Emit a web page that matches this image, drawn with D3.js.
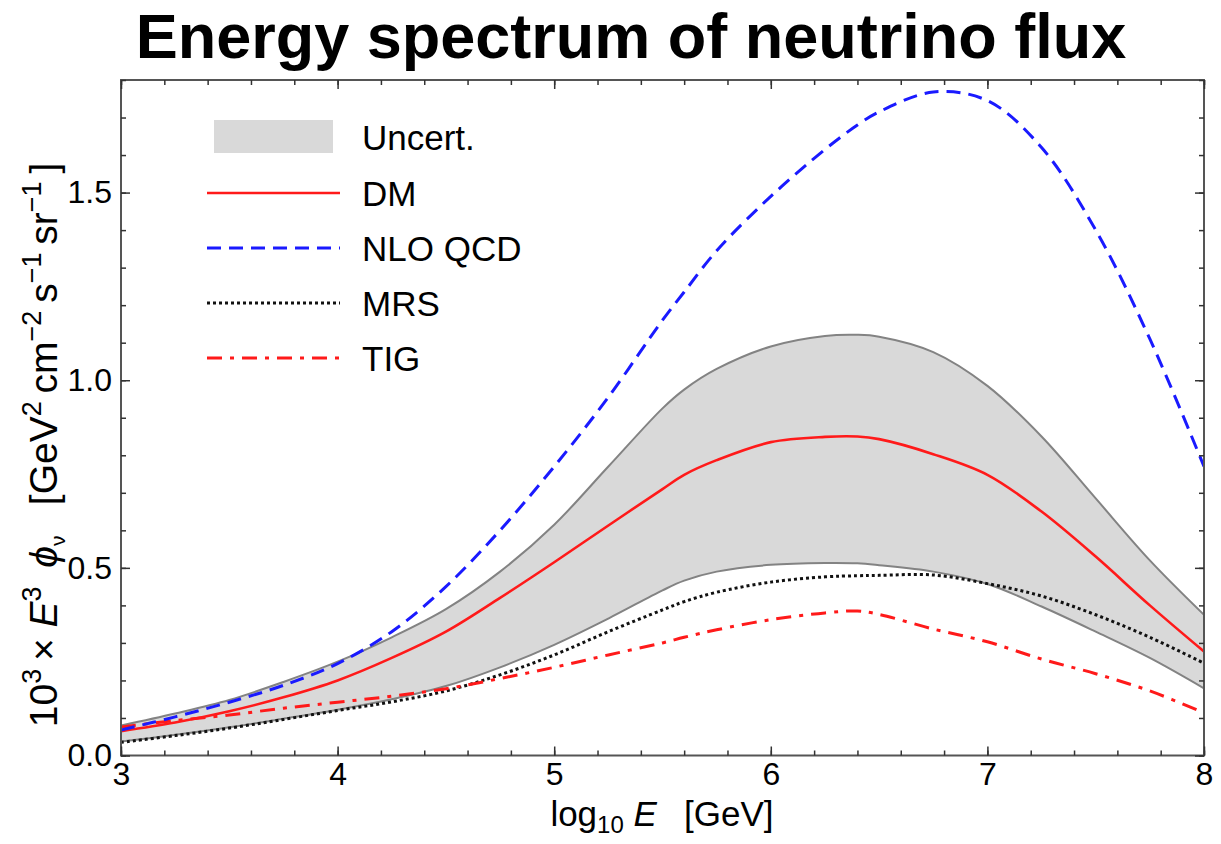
<!DOCTYPE html>
<html><head><meta charset="utf-8">
<script src="https://cdn.jsdelivr.net/npm/d3@7"></script>
<style>body{margin:0;background:#fff}svg{display:block}</style>
</head><body>
<script>
const energy = [3,3.25,3.5,3.75,4,4.25,4.5,4.75,5,5.25,5.5,5.6,5.75,6,6.25,6.4,6.5,6.75,7,7.25,7.5,7.75,8];
const nloQCD = [0.068,0.103,0.142,0.187,0.245,0.33,0.45,0.60,0.77,0.955,1.16,1.235,1.345,1.49,1.615,1.68,1.715,1.768,1.745,1.62,1.40,1.11,0.77];
const uncUpper = [0.08,0.112,0.148,0.196,0.25,0.315,0.39,0.49,0.615,0.77,0.925,0.975,1.03,1.09,1.118,1.121,1.116,1.075,0.985,0.85,0.685,0.52,0.375];
const uncLower = [0.037,0.055,0.075,0.098,0.122,0.15,0.185,0.235,0.295,0.365,0.44,0.466,0.49,0.508,0.513,0.512,0.507,0.49,0.457,0.397,0.33,0.26,0.179];
const dm = [0.065,0.088,0.118,0.155,0.2,0.26,0.33,0.42,0.515,0.613,0.71,0.748,0.787,0.835,0.849,0.85,0.843,0.803,0.748,0.65,0.53,0.40,0.277];
const mrs = [0.035,0.053,0.073,0.096,0.12,0.143,0.172,0.215,0.268,0.33,0.388,0.41,0.435,0.462,0.476,0.479,0.48,0.481,0.458,0.425,0.375,0.315,0.246];
const tig = [0.076,0.093,0.108,0.126,0.142,0.158,0.178,0.205,0.235,0.268,0.3,0.315,0.335,0.362,0.38,0.385,0.376,0.337,0.303,0.257,0.218,0.172,0.114];
const xTicks = [3,4,5,6,7,8];
const yTicks = [0.0,0.5,1.0,1.5];
const legendLabels = ["Uncert.","DM","NLO QCD","MRS","TIG"];

const W=1221,H=844;
const L=121,R=1204,T=80,B=755.5;
const svg=d3.select("body").append("svg").attr("width",W).attr("height",H);
const font="Liberation Sans, Arial, Helvetica, sans-serif";
const x=d3.scaleLinear().domain([3,8]).range([L,R]);
const y=d3.scaleLinear().domain([0,1.8]).range([B,T]);

svg.append("text").attr("x",631).attr("y",58).attr("text-anchor","middle")
  .attr("font-family",font).attr("font-weight","bold").attr("font-size",63).text("Energy spectrum of neutrino flux");

svg.append("clipPath").attr("id","clip").append("rect").attr("x",L).attr("y",T).attr("width",R-L).attr("height",B-T);
const g=svg.append("g").attr("clip-path","url(#clip)");
const curve=d3.curveCatmullRom.alpha(0.5);
const band=energy.map((e,i)=>({e,lo:uncLower[i],hi:uncUpper[i]}));
g.append("path").datum(band).attr("fill","#d9d9d9")
  .attr("d",d3.area().x(d=>x(d.e)).y0(d=>y(d.lo)).y1(d=>y(d.hi)).curve(curve));
const line=(arr)=>d3.line().x((d,i)=>x(energy[i])).y(d=>y(d)).curve(curve)(arr);
g.append("path").attr("d",line(uncUpper)).attr("fill","none").attr("stroke","#838383").attr("stroke-width",2);
g.append("path").attr("d",line(uncLower)).attr("fill","none").attr("stroke","#838383").attr("stroke-width",2);
const styles={
  mrs:{stroke:"#111",w:3,dash:"3,3"},
  tig:{stroke:"#ff1a1a",w:3,dash:"15,8,4,8"},
  dm:{stroke:"#ff1a1a",w:2.6,dash:null},
  nlo:{stroke:"#1a1aff",w:3,dash:"14,8"}
};
[[mrs,styles.mrs],[tig,styles.tig],[dm,styles.dm],[nloQCD,styles.nlo]].forEach(([arr,s])=>{
  g.append("path").attr("d",line(arr)).attr("fill","none").attr("stroke",s.stroke)
   .attr("stroke-width",s.w).attr("stroke-dasharray",s.dash);
});

// frame
svg.append("rect").attr("x",L).attr("y",T).attr("width",R-L).attr("height",B-T)
  .attr("fill","none").attr("stroke","#555").attr("stroke-width",2);

// axes with inward ticks
const minorX=d3.range(3,8.001,0.2);
const minorY=d3.range(0,1.801,0.1);
svg.append("g").attr("transform",`translate(0,${B})`).call(d3.axisBottom(x).tickValues(xTicks).tickSize(-9).tickPadding(7).tickFormat(d3.format("d")));
svg.append("g").attr("transform",`translate(0,${T})`).call(d3.axisTop(x).tickValues(xTicks).tickSize(-9).tickFormat(""));
svg.append("g").attr("transform",`translate(${L},0)`).call(d3.axisLeft(y).tickValues(yTicks).tickSize(-9).tickPadding(9).tickFormat(d3.format(".1f")));
svg.append("g").attr("transform",`translate(${R},0)`).call(d3.axisRight(y).tickValues(yTicks).tickSize(-9).tickFormat(""));
svg.append("g").attr("transform",`translate(0,${B})`).call(d3.axisBottom(x).tickValues(minorX).tickSize(-5).tickFormat(""));
svg.append("g").attr("transform",`translate(0,${T})`).call(d3.axisTop(x).tickValues(minorX).tickSize(-5).tickFormat(""));
svg.append("g").attr("transform",`translate(${L},0)`).call(d3.axisLeft(y).tickValues(minorY).tickSize(-5).tickFormat(""));
svg.append("g").attr("transform",`translate(${R},0)`).call(d3.axisRight(y).tickValues(minorY).tickSize(-5).tickFormat(""));
svg.selectAll(".domain").remove();
svg.selectAll(".tick line").attr("stroke","#333").attr("stroke-width",1.5);
svg.selectAll(".tick text").attr("font-family",font).attr("font-size",32).attr("fill","#000");

// x label
const xl=svg.append("text").attr("x",662).attr("y",826).attr("text-anchor","middle")
  .attr("font-family",font).attr("font-size",35);
xl.append("tspan").text("log");
xl.append("tspan").attr("font-size",24).attr("dy",7).text("10");
xl.append("tspan").attr("dy",-7).text(" ");
xl.append("tspan").attr("font-style","italic").text("E");
xl.append("tspan").text("\u2002 [GeV]");

// y label
const yl=svg.append("text").attr("transform","translate(57,445) rotate(-90)").attr("text-anchor","middle")
  .attr("font-family",font).attr("font-size",39);
const sup=(t)=>{yl.append("tspan").attr("font-size",27).attr("dy",-16).text(t);yl.append("tspan").attr("dy",16).text("\u2009");};
yl.append("tspan").text("10");sup("3");
yl.append("tspan").text("\u00d7 ");
yl.append("tspan").attr("font-style","italic").text("E");sup("3");
yl.append("tspan").text(" ");
yl.append("tspan").attr("font-style","italic").text("\u03d5");
yl.append("tspan").attr("font-size",21).attr("dy",8).text("\u03bd");
yl.append("tspan").attr("dy",-8).text("\u2002 [GeV");sup("2");
yl.append("tspan").text("cm");sup("\u22122");
yl.append("tspan").text("s");sup("\u22121");
yl.append("tspan").text("sr");sup("\u22121");
yl.append("tspan").text("]");

// legend
const lg=svg.append("g");
const rowY=[137,193,248,303,358];
lg.append("rect").attr("x",214).attr("y",120).attr("width",119).attr("height",33).attr("fill","#d9d9d9");
const legStyles=[null,styles.dm,styles.nlo,styles.mrs,styles.tig];
legStyles.forEach((s,i)=>{
  if(!s) return;
  lg.append("line").attr("x1",207).attr("x2",340).attr("y1",rowY[i]).attr("y2",rowY[i])
    .attr("stroke",s.stroke).attr("stroke-width",s.w).attr("stroke-dasharray",s.dash);
});
legendLabels.forEach((t,i)=>{
  lg.append("text").attr("x",362).attr("y",rowY[i]).attr("dy","0.36em")
    .attr("font-family",font).attr("font-size",35).text(t);
});
</script>
</body></html>
